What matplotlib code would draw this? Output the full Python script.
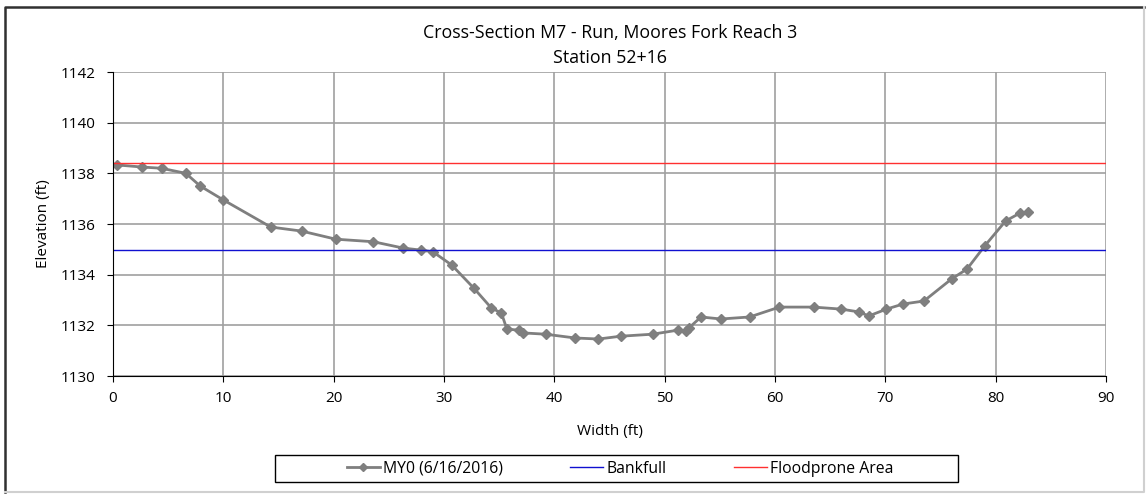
import matplotlib
matplotlib.use('Agg')
from matplotlib import pyplot as plt
from matplotlib.patches import Rectangle
from matplotlib.lines import Line2D

# survey points
width_ft = [0.4, 2.6, 4.4, 6.6, 7.9, 10.0, 14.3, 17.1, 20.2, 23.6, 26.3, 27.9, 29.0,
            30.7, 32.7, 34.3, 35.2, 35.7, 36.8, 37.2, 39.2, 41.9, 44.0, 46.0, 48.9,
            51.2, 51.9, 52.2, 53.3, 55.1, 57.7, 60.4, 63.5, 66.0, 67.6, 68.5, 70.1,
            71.6, 73.5, 76.0, 77.4, 79.0, 80.9, 82.2, 82.9]
elev_ft = [1138.33, 1138.25, 1138.2, 1138.0, 1137.5, 1136.95, 1135.88, 1135.72, 1135.4,
           1135.3, 1135.05, 1134.97, 1134.9, 1134.38, 1133.47, 1132.68, 1132.49, 1131.85,
           1131.81, 1131.7, 1131.65, 1131.5, 1131.46, 1131.57, 1131.65, 1131.81, 1131.78,
           1131.9, 1132.33, 1132.25, 1132.33, 1132.72, 1132.72, 1132.64, 1132.53, 1132.37,
           1132.64, 1132.84, 1132.96, 1133.83, 1134.22, 1135.13, 1136.12, 1136.43, 1136.47]
bankfull_elev = 1134.98
floodprone_elev = 1138.4
x_limits = [0, 90]
y_limits = [1130, 1142]

W, H = 1146, 494


def fx(px):
    return px / W


def fy(py):
    return 1 - py / H


def main():
    plt.rcParams['font.family'] = ['Open Sans', 'DejaVu Sans']
    fig = plt.figure(figsize=(W / 100, H / 100), dpi=100)
    ax = fig.add_axes([fx(113), fy(376), fx(1106 - 113), (376 - 72) / H])

    # outer frame: dark top/left, light bottom/right
    fig.add_artist(Line2D([fx(5), fx(5), fx(1144)], [fy(492), fy(7), fy(7)],
                          color='#303030', linewidth=1.8))
    fig.add_artist(Line2D([fx(5), fx(1144), fx(1144)], [fy(492), fy(492), fy(7)],
                          color='#d0d0d0', linewidth=1.5))

    ax.plot(width_ft, elev_ft, color='#7f7f7f', linewidth=2, marker='D', markersize=5.5,
            label='MY0 (6/16/2016)')
    ax.axhline(bankfull_elev, color='#1010d0', linewidth=1, label='Bankfull')
    ax.axhline(floodprone_elev, color='#ff3030', linewidth=1, label='Floodprone Area')

    ax.set_xlim(x_limits)
    ax.set_ylim(y_limits)
    ax.set_xticks(range(0, 91, 10))
    ax.set_yticks(range(1130, 1143, 2))
    ax.grid(True, color='#a0a0a0', linewidth=1.2)
    ax.set_axisbelow(True)
    for side in ['top', 'right']:
        ax.spines[side].set_visible(False)
    for side in ['left', 'bottom']:
        ax.spines[side].set_color('black')
    ax.tick_params(direction='out', length=4.5, labelsize=11)
    ax.tick_params(axis='y', pad=8)
    ax.tick_params(axis='x', pad=6)

    ax.set_xlabel('Width (ft)', fontsize=11, labelpad=13)
    ax.set_ylabel('Elevation (ft)', fontsize=11, labelpad=7)
    fig.text(fx(610), fy(33), 'Cross-Section M7 - Run, Moores Fork Reach 3',
             ha='center', va='center', fontsize=12.8)
    fig.text(fx(610), fy(58), 'Station 52+16', ha='center', va='center', fontsize=12.8)

    # legend box drawn separately, entries centred inside it
    fig.patches.append(Rectangle((fx(275), fy(482)), fx(958 - 275), (482 - 455) / H,
                                 transform=fig.transFigure, fill=False,
                                 edgecolor='black', linewidth=1))
    fig.legend(loc='center', ncol=3, bbox_to_anchor=(fx(620), fy(468.5)),
               fontsize=11.3, frameon=False, borderaxespad=0, borderpad=0,
               handlelength=2.1, handletextpad=0.2, columnspacing=4.3,
               markerscale=0.8)

    fig.savefig('out.png', dpi=100)


if __name__ == "__main__":
    main()
